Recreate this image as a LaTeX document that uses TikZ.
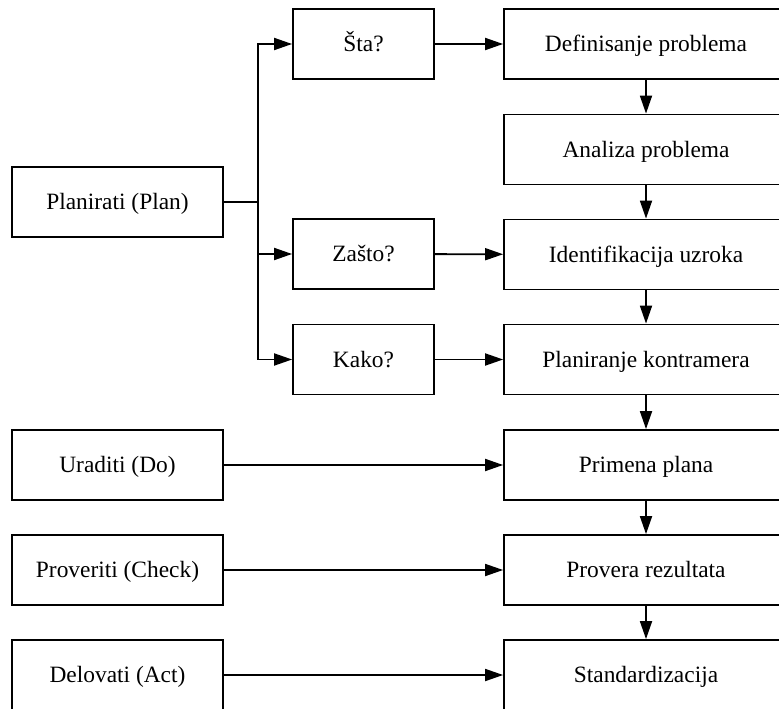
\documentclass[tikz,border=0pt]{standalone}
\usepackage{fontspec}
\setmainfont{Liberation Serif}
\usetikzlibrary{arrows.meta}
\begin{document}
\begin{tikzpicture}[x=1pt,y=-1pt,
  box/.style={draw, line width=1.8pt, rectangle, minimum height=70pt,
    inner sep=0pt, text height=15.2pt, text depth=0pt,
    font=\fontsize{23.4}{27}\selectfont},
  leftbox/.style={box, minimum width=211pt},
  qbox/.style={box, minimum width=141pt},
  stepbox/.style={box, minimum width=284pt},
  link/.style={line width=1.8pt, line join=miter},
  arr/.style={link, -{Triangle[length=18pt, width=12pt]}}]
\useasboundingbox (0,0) rectangle (779,709);

% left column: the four PDCA phases
\node[leftbox] (plan)  at (117.5,202) {Planirati (Plan)};
\node[leftbox] (do)    at (117.5,465) {Uraditi (Do)};
\node[leftbox] (check) at (117.5,570) {Proveriti (Check)};
\node[leftbox] (act)   at (117.5,675) {Delovati (Act)};

% question boxes of the planning phase
\node[qbox] (sta)   at (363.5,44)  {Šta?};
\node[qbox] (zasto) at (363.5,254) {Zašto?};
\node[qbox] (kako)  at (363.5,359.5) {Kako?};

% right column: the steps
\node[stepbox] (s1) at (646,44)  {Definisanje problema};
\node[stepbox] (s2) at (646,149.5) {Analiza problema};
\node[stepbox] (s3) at (646,254.5) {Identifikacija uzroka};
\node[stepbox] (s4) at (646,359.5) {Planiranje kontramera};
\node[stepbox] (s5) at (646,465) {Primena plana};
\node[stepbox] (s6) at (646,570) {Provera rezultata};
\node[stepbox] (s7) at (646,675) {Standardizacija};

% branching from the planning phase
\coordinate (jm) at (258,202);
\draw[link] (plan.east) -- (jm);
\draw[arr] (jm) |- (sta.west);
\draw[arr] (jm) |- (zasto.west);
\draw[arr] (jm) |- (kako.west);

% questions to steps
\draw[arr] (sta) -- (s1);
\draw[arr] (zasto) -- (s3);
\draw[arr] (kako) -- (s4);

% phases to steps
\draw[arr] (do) -- (s5);
\draw[arr] (check) -- (s6);
\draw[arr] (act) -- (s7);

% sequence of steps
\foreach \a/\b in {s1/s2, s2/s3, s3/s4, s4/s5, s5/s6, s6/s7}
  \draw[arr] (\a) -- (\b);
\end{tikzpicture}
\end{document}
